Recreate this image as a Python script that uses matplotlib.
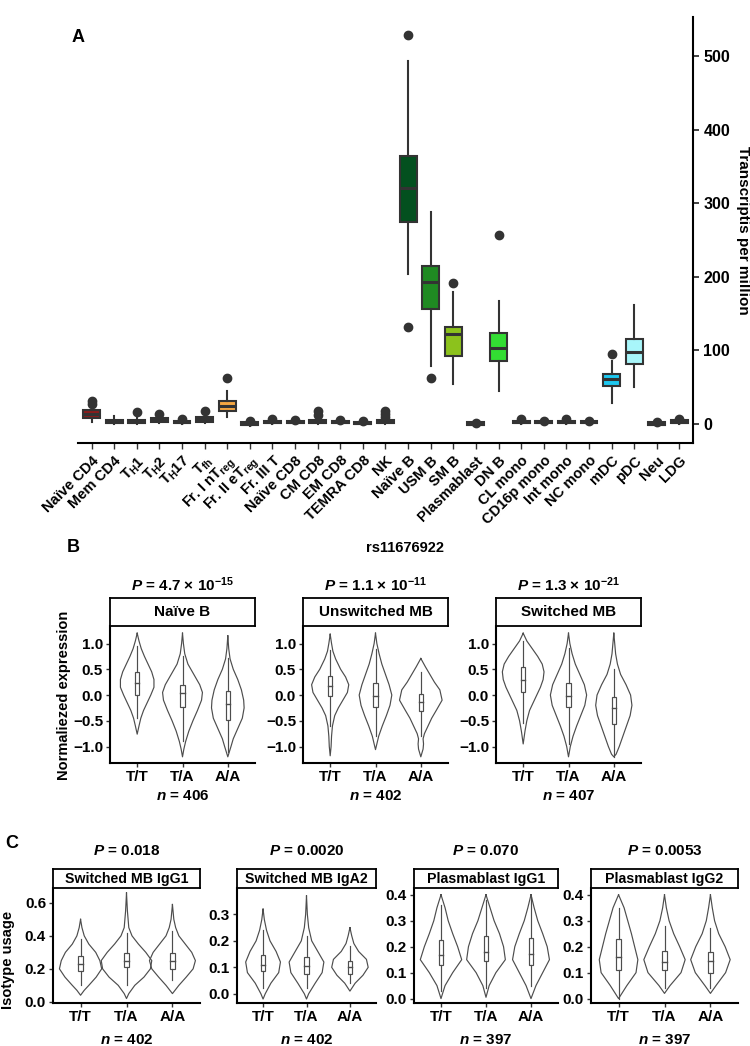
import numpy as np
import matplotlib
matplotlib.use('Agg')
from matplotlib import pyplot as plt
from matplotlib.patches import Rectangle

plt.rcParams['font.family'] = ['Liberation Sans', 'DejaVu Sans']
plt.rcParams['font.weight'] = 'bold'
plt.rcParams['mathtext.fontset'] = 'custom'
plt.rcParams['mathtext.rm'] = 'Liberation Sans:bold'
plt.rcParams['mathtext.it'] = 'Liberation Sans:italic:bold'
plt.rcParams['mathtext.bf'] = 'Liberation Sans:bold'

W, H = 750, 1046

# ---- Panel A data: box stats (TPM)
cells = ['Naïve CD4', 'Mem CD4', r'T$_\mathrm{H}$1', r'T$_\mathrm{H}$2', r'T$_\mathrm{H}$17',
         r'T$_\mathrm{fh}$', r'Fr. I nT$_\mathrm{reg}$', r'Fr. II eT$_\mathrm{reg}$', 'Fr. III T',
         'Naïve CD8', 'CM CD8', 'EM CD8', 'TEMRA CD8', 'NK', 'Naïve B', 'USM B', 'SM B',
         'Plasmablast', 'DN B', 'CL mono', 'CD16p mono', 'Int mono', 'NC mono', 'mDC', 'pDC',
         'Neu', 'LDG']
a_lo = [2, 0, 0, 1, 0, 1, 9, -3, 0, 0, 0, 0, -1, 0, 204, 78, 54, -2, 45, 0, 0, 0, 0, 29, 50, -3, 0]
a_q1 = [8, 1, 1, 2, 1, 3, 17, -2, 1, 1, 1, 1, 0, 1, 274, 156, 92, -1, 86, 1, 1, 1, 1, 52, 81.5, -1, 1]
a_med = [13, 3, 3, 5, 2, 6, 24, 0, 2, 2, 3, 2, 1, 2, 320, 193, 122, 0, 103, 2, 2, 2, 2, 61, 98, 0, 2]
a_q3 = [19, 5, 5, 8, 4, 10, 31, 2, 4, 4, 5, 4, 3, 5, 364, 214, 131, 2, 124, 4, 4, 4, 4, 68, 116, 2, 5]
a_hi = [24, 11, 10, 11, 6, 15, 45, 3, 6, 5, 10, 6, 4, 8, 493, 288, 179, 3, 167, 6, 5, 6, 5, 85, 162, 2, 8]
a_out = [[27, 31], [], [16], [13], [6], [17], [62], [4], [6], [5], [12, 17], [5], [4], [10, 14, 18],
         [131, 528], [62], [192], [1], [257], [6], [4], [6], [4], [95], [], [2], [7]]
a_fill = ['#8b1c1c'] + ['#444444'] * 5 + ['#f5a742'] + ['#444444'] * 7 + \
         ['#03501f', '#1f8a22', '#8cc21c', '#444444', '#33dd33'] + ['#444444'] * 4 + \
         ['#1ec8f0', '#a8f6fa', '#444444', '#444444']

# ---- Panel B / C data: violin outlines (level, half width) and box stats [lo, q1, med, q3, hi]
geno = ['T/T', 'T/A', 'A/A']

b_titles = ['Naïve B', 'Unswitched MB', 'Switched MB']
b_p = [r'$\mathit{P}$ = 4.7 × 10$^{-15}$', r'$\mathit{P}$ = 1.1 × 10$^{-11}$',
       r'$\mathit{P}$ = 1.3 × 10$^{-21}$']
b_n = [406, 402, 407]
b_vy = [
    [[1.20, 1.05, 0.9, 0.75, 0.6, 0.45, 0.3, 0.15, 0.0, -0.15, -0.3, -0.45, -0.6, -0.76],
     [1.2, 1.0, 0.8, 0.6, 0.4, 0.2, 0.05, -0.1, -0.3, -0.5, -0.7, -0.9, -1.05, -1.2],
     [1.15, 0.9, 0.7, 0.5, 0.3, 0.1, -0.1, -0.25, -0.45, -0.65, -0.85, -1.0, -1.2]],
    [[1.18, 1.0, 0.85, 0.7, 0.5, 0.35, 0.2, 0.05, -0.1, -0.25, -0.4, -0.6, -0.8, -1.0, -1.18],
     [1.2, 1.0, 0.8, 0.6, 0.4, 0.2, 0.0, -0.2, -0.4, -0.6, -0.8, -0.95, -1.06],
     [0.71, 0.55, 0.4, 0.25, 0.1, -0.1, -0.3, -0.45, -0.6, -0.75, -0.85, -0.95, -1.05, -1.2]],
    [[1.2, 1.05, 0.9, 0.75, 0.6, 0.45, 0.3, 0.15, 0.0, -0.15, -0.3, -0.5, -0.7, -0.95],
     [1.2, 1.0, 0.8, 0.6, 0.4, 0.2, 0.0, -0.2, -0.4, -0.6, -0.8, -1.0, -1.2],
     [1.2, 1.0, 0.8, 0.6, 0.4, 0.2, 0.0, -0.2, -0.4, -0.6, -0.8, -1.0, -1.15, -1.2]],
]
b_vw = [
    [[0.0, 0.04, 0.09, 0.16, 0.24, 0.32, 0.37, 0.37, 0.30, 0.22, 0.14, 0.08, 0.04, 0.0],
     [0.0, 0.02, 0.05, 0.12, 0.25, 0.38, 0.44, 0.42, 0.33, 0.23, 0.14, 0.07, 0.03, 0.0],
     [0.0, 0.02, 0.05, 0.12, 0.22, 0.30, 0.35, 0.36, 0.32, 0.22, 0.12, 0.07, 0.0]],
    [[0.0, 0.03, 0.06, 0.12, 0.23, 0.34, 0.41, 0.38, 0.28, 0.18, 0.1, 0.05, 0.03, 0.02, 0.0],
     [0.0, 0.03, 0.08, 0.14, 0.22, 0.30, 0.36, 0.32, 0.24, 0.15, 0.07, 0.03, 0.0],
     [0.0, 0.1, 0.2, 0.3, 0.42, 0.47, 0.34, 0.24, 0.16, 0.08, 0.05, 0.06, 0.05, 0.0]],
    [[0.0, 0.08, 0.2, 0.32, 0.42, 0.46, 0.44, 0.38, 0.30, 0.22, 0.14, 0.08, 0.04, 0.0],
     [0.0, 0.03, 0.08, 0.15, 0.25, 0.35, 0.4, 0.36, 0.27, 0.18, 0.1, 0.04, 0.0],
     [0.0, 0.02, 0.04, 0.08, 0.15, 0.27, 0.37, 0.40, 0.36, 0.28, 0.2, 0.12, 0.05, 0.0]],
]
b_box = [
    [[-0.45, 0.0, 0.23, 0.45, 0.95], [-0.9, -0.23, 0.04, 0.2, 0.75], [-1.1, -0.48, -0.18, 0.08, 0.72]],
    [[-0.6, -0.02, 0.17, 0.37, 0.88], [-0.8, -0.23, -0.02, 0.23, 0.9], [-0.8, -0.32, -0.13, 0.02, 0.45]],
    [[-0.55, 0.05, 0.3, 0.55, 1.05], [-0.95, -0.23, -0.02, 0.23, 0.92], [-1.2, -0.57, -0.26, -0.03, 0.5]],
]

c_titles = ['Switched MB IgG1', 'Switched MB IgA2', 'Plasmablast IgG1', 'Plasmablast IgG2']
c_p = [r'$\mathit{P}$ = 0.018', r'$\mathit{P}$ = 0.0020', r'$\mathit{P}$ = 0.070', r'$\mathit{P}$ = 0.0053']
c_n = [402, 402, 397, 397]
c_vy = [
    [[0.50, 0.45, 0.40, 0.35, 0.30, 0.25, 0.20, 0.15, 0.10, 0.07, 0.04],
     [0.66, 0.55, 0.45, 0.40, 0.35, 0.30, 0.25, 0.20, 0.15, 0.10, 0.05, 0.02],
     [0.59, 0.50, 0.45, 0.40, 0.35, 0.30, 0.25, 0.20, 0.15, 0.10, 0.05]],
    [[0.32, 0.28, 0.24, 0.2, 0.16, 0.12, 0.08, 0.04, 0.0, -0.02],
     [0.37, 0.3, 0.25, 0.2, 0.16, 0.12, 0.08, 0.04, 0.0, -0.02],
     [0.25, 0.22, 0.19, 0.16, 0.13, 0.1, 0.07, 0.04, 0.01]],
    [[0.4, 0.35, 0.3, 0.25, 0.2, 0.15, 0.1, 0.05, 0.0],
     [0.4, 0.35, 0.3, 0.25, 0.2, 0.15, 0.1, 0.05, 0.005],
     [0.4, 0.35, 0.3, 0.25, 0.2, 0.15, 0.1, 0.05, 0.0]],
    [[0.4, 0.35, 0.3, 0.25, 0.2, 0.15, 0.1, 0.05, 0.0],
     [0.4, 0.35, 0.3, 0.25, 0.2, 0.15, 0.1, 0.05, 0.02],
     [0.4, 0.35, 0.3, 0.25, 0.2, 0.15, 0.1, 0.05, 0.02]],
]
c_vw = [
    [[0.0, 0.03, 0.08, 0.18, 0.33, 0.42, 0.46, 0.34, 0.18, 0.08, 0.0],
     [0.0, 0.02, 0.05, 0.12, 0.26, 0.42, 0.55, 0.52, 0.38, 0.18, 0.05, 0.0],
     [0.0, 0.03, 0.07, 0.14, 0.28, 0.42, 0.50, 0.45, 0.30, 0.14, 0.0]],
    [[0.0, 0.03, 0.08, 0.16, 0.3, 0.4, 0.36, 0.18, 0.05, 0.0],
     [0.0, 0.02, 0.05, 0.12, 0.26, 0.4, 0.36, 0.2, 0.05, 0.0],
     [0.0, 0.04, 0.09, 0.2, 0.38, 0.42, 0.3, 0.12, 0.0]],
    [[0.0, 0.09, 0.16, 0.26, 0.37, 0.46, 0.26, 0.09, 0.0],
     [0.0, 0.09, 0.18, 0.3, 0.39, 0.43, 0.22, 0.07, 0.0],
     [0.0, 0.07, 0.15, 0.26, 0.36, 0.41, 0.26, 0.11, 0.0]],
    [[0.0, 0.12, 0.2, 0.28, 0.35, 0.42, 0.38, 0.18, 0.0],
     [0.0, 0.04, 0.1, 0.2, 0.33, 0.45, 0.36, 0.12, 0.0],
     [0.0, 0.04, 0.09, 0.18, 0.32, 0.43, 0.33, 0.12, 0.0]],
]
c_box = [
    [[0.1, 0.185, 0.23, 0.28, 0.38], [0.1, 0.21, 0.25, 0.295, 0.42], [0.13, 0.2, 0.25, 0.295, 0.43]],
    [[0.02, 0.085, 0.11, 0.145, 0.24], [0.02, 0.075, 0.105, 0.14, 0.22], [0.04, 0.075, 0.1, 0.125, 0.18]],
    [[0.03, 0.13, 0.168, 0.225, 0.36], [0.04, 0.145, 0.178, 0.24, 0.38], [0.05, 0.128, 0.173, 0.232, 0.39]],
    [[0.0, 0.11, 0.16, 0.23, 0.35], [0.04, 0.11, 0.14, 0.185, 0.28], [0.04, 0.1, 0.145, 0.18, 0.27]],
]
c_ylim = [(-0.007, 0.69), (-0.035, 0.40), (-0.017, 0.426), (-0.017, 0.426)]
c_ticks = [[0.0, 0.2, 0.4, 0.6], [0.0, 0.1, 0.2, 0.3], [0.0, 0.1, 0.2, 0.3, 0.4], [0.0, 0.1, 0.2, 0.3, 0.4]]


fig = plt.figure(figsize=(W / 100, H / 100), dpi=100)


def px_axes(left, top, right, bottom):
    return fig.add_axes([left / W, 1 - bottom / H, (right - left) / W, (bottom - top) / H])


def fig_text(x, y, s, **kw):
    fig.text(x / W, 1 - y / H, s, **kw)


def fmt(v):
    return f'{v:.1f}'.replace('-', '\u2212')


# ---------------- Panel A
ax = px_axes(78, 17, 693, 443)
stats = []
for i in range(len(cells)):
    stats.append(dict(whislo=a_lo[i], q1=a_q1[i], med=a_med[i], q3=a_q3[i], whishi=a_hi[i], fliers=a_out[i]))
bp = ax.bxp(stats, positions=np.arange(len(cells)), widths=0.75, patch_artist=True, showcaps=False,
            boxprops=dict(linewidth=1.5, edgecolor='#333333'),
            medianprops=dict(color='#333333', linewidth=2.2),
            whiskerprops=dict(color='#333333', linewidth=1.5),
            flierprops=dict(marker='o', markerfacecolor='#333333', markeredgecolor='#333333', markersize=6))
for patch, col in zip(bp['boxes'], a_fill):
    patch.set_facecolor(col)
ax.set_xlim(-0.6, len(cells) - 0.4)
ax.set_ylim(-26, 553)
ax.set_yticks([0, 100, 200, 300, 400, 500])
ax.yaxis.tick_right()
ax.yaxis.set_label_position('right')
ax.set_ylabel('Transcriptis per million', rotation=270, labelpad=14, fontsize=11, fontweight='bold')
ax.set_xticks(np.arange(len(cells)))
ax.set_xticklabels(cells, rotation=45, ha='right', rotation_mode='anchor', fontsize=10.5, fontweight='bold')
ax.tick_params(axis='y', labelsize=11.5, width=1.3, length=4, color='#333333')
ax.tick_params(axis='x', width=1.0, length=4, color='#333333')
for s in ['left', 'top']:
    ax.spines[s].set_visible(False)
for s in ['right', 'bottom']:
    ax.spines[s].set_linewidth(1.5)
fig_text(78, 38, 'A', fontsize=13, fontweight='bold', ha='center', va='center')


# ---------------- Violin panels
def violin_panel(left, top, right, bottom, strip_h, vy, vw, boxes, ylim, ticks, title, strip_fs):
    ax = px_axes(left, top, right, bottom)
    for i in range(3):
        x = i + 1
        y = np.array(vy[i])
        w = np.array(vw[i])
        xs = np.concatenate([x - w, (x + w)[::-1], [x - w[0]]])
        ys = np.concatenate([y, y[::-1], [y[0]]])
        ax.plot(xs, ys, color='#4d4d4d', lw=0.85)
        lo, q1, med, q3, hi = boxes[i]
        ax.plot([x, x], [lo, q1], color='#4d4d4d', lw=0.85)
        ax.plot([x, x], [q3, hi], color='#4d4d4d', lw=0.85)
        ax.add_patch(Rectangle((x - 0.05, q1), 0.1, q3 - q1, facecolor='white', edgecolor='#4d4d4d', lw=0.85))
        ax.plot([x - 0.05, x + 0.05], [med, med], color='#4d4d4d', lw=1.0)
    ax.set_xlim(0.4, 3.6)
    ax.set_ylim(*ylim)
    ax.set_xticks([1, 2, 3])
    ax.set_xticklabels(geno, fontsize=11, fontweight='bold')
    ax.set_yticks(ticks)
    ax.set_yticklabels([fmt(t) for t in ticks], fontsize=11, fontweight='bold')
    ax.tick_params(width=1.0, length=3, color='#333333', pad=2)
    for s in ['right', 'top']:
        ax.spines[s].set_visible(False)
    for s in ['left', 'bottom']:
        ax.spines[s].set_linewidth(1.5)
    st = px_axes(left, top - strip_h, right, top)
    st.set_xticks([])
    st.set_yticks([])
    for s in st.spines.values():
        s.set_linewidth(1.3)
    st.text(0.5, 0.5, title, ha='center', va='center', fontsize=strip_fs, fontweight='bold', transform=st.transAxes)
    return (left + right) / 2


# ---------------- Panel B
b_left = [110, 303, 496]
fig_text(73, 548, 'B', fontsize=13, fontweight='bold', ha='center', va='center')
fig_text(405, 548, 'rs11676922', fontsize=10.5, fontweight='bold', ha='center', va='center')
for k in range(3):
    cx = violin_panel(b_left[k], 626, b_left[k] + 145, 763, 28, b_vy[k], b_vw[k], b_box[k],
                      (-1.32, 1.34), [-1.0, -0.5, 0.0, 0.5, 1.0], b_titles[k], 11)
    fig_text(cx, 585, b_p[k], fontsize=11, fontweight='bold', ha='center', va='center')
    fig_text(cx, 796, r'$\mathit{n}$ = ' + str(b_n[k]), fontsize=11, fontweight='bold', ha='center', va='center')
fig_text(64, 695, 'Normaliezed expression', fontsize=10.5, fontweight='bold', rotation=90, ha='center', va='center')

# ---------------- Panel C
c_left = [53, 237, 414, 591]
c_right = [200, 376, 558, 738]
fig_text(12, 843, 'C', fontsize=13, fontweight='bold', ha='center', va='center')
for k in range(4):
    cx = violin_panel(c_left[k], 888, c_right[k], 1003, 19, c_vy[k], c_vw[k], c_box[k],
                      c_ylim[k], c_ticks[k], c_titles[k], 10.2)
    fig_text(cx, 851, c_p[k], fontsize=11, fontweight='bold', ha='center', va='center')
    fig_text(cx, 1040, r'$\mathit{n}$ = ' + str(c_n[k]), fontsize=11, fontweight='bold', ha='center', va='center')
fig_text(8, 960, 'Isotype usage', fontsize=10.5, fontweight='bold', rotation=90, ha='center', va='center')

fig.savefig('out.png', dpi=100)
